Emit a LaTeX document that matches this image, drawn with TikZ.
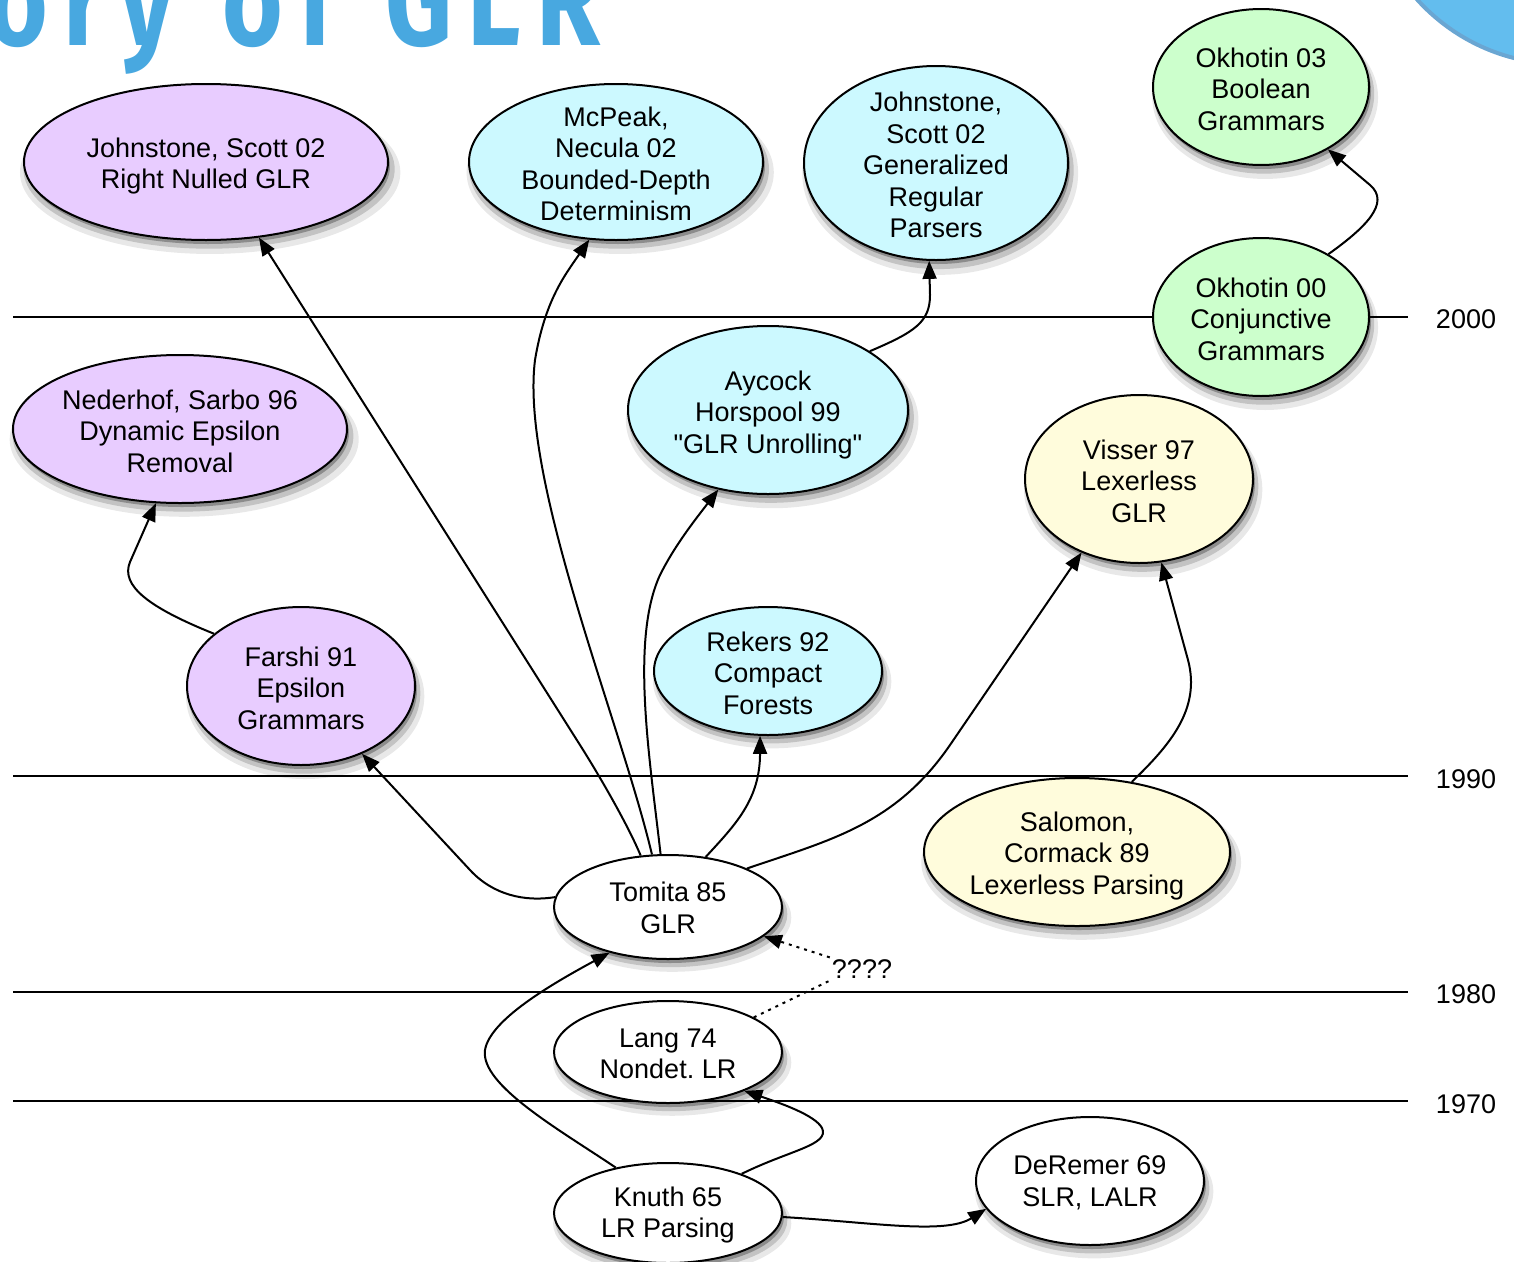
\documentclass[tikz,border=0pt]{standalone}
\usepackage{graphicx}
\usepackage{fontspec}
\setmainfont{Liberation Sans}[Ligatures=TeXOff]
\newfontfamily\titlef{Fira Sans}[LetterSpace=15]
\usetikzlibrary{shapes.geometric,arrows.meta,shadows}
\frenchspacing
\newcommand\glrfont{\fontsize{27}{31.5}\selectfont}
\newcommand\titlefont{\titlef\bfseries\fontsize{130}{130}\selectfont}
\newcommand\tsq[1]{\scalebox{0.8}[1]{#1}}
\definecolor{purp}{HTML}{E8CCFF}
\definecolor{cyanf}{HTML}{CCF9FF}
\definecolor{greenf}{HTML}{CCFFCC}
\definecolor{yellowf}{HTML}{FFFCDC}
\definecolor{titleblue}{HTML}{48A8E0}
\definecolor{circblue}{HTML}{63BDEE}
\definecolor{circedge}{HTML}{6AA6D2}
\tikzset{
  shad/.style={
    general shadow={fill=black, opacity=0.28, shadow xshift=2pt, shadow yshift=-4pt, shadow scale=1.0},
    general shadow={fill=black, opacity=0.16, shadow xshift=3pt, shadow yshift=-7pt, shadow scale=1.02},
    general shadow={fill=black, opacity=0.09, shadow xshift=4pt, shadow yshift=-10pt, shadow scale=1.045}},
  ell/.style={ellipse, draw, line width=2pt, inner sep=0pt, shad},
  txt/.style={align=center, font=\glrfont, inner sep=0pt, text=black, yshift=-2pt},
  arr/.style={line width=2pt, -{Triangle[length=18pt,width=14pt]}},
  dotarr/.style={line width=2pt, dash pattern=on 3pt off 5pt},
  era/.style={line width=1.5pt},
  year/.style={font=\glrfont, inner sep=0pt},
  ttl/.style={inner sep=0pt, text=titleblue, font=\titlefont}
}
\begin{document}
\begin{tikzpicture}[x=1pt,y=-1pt]
\useasboundingbox (0,0) rectangle (1514,1261);
% title and decoration
\node[ttl, anchor=base east] (title1) at (175,45) {\tsq{History}};
\node[ttl, anchor=base west] (title2) at (222,45) {\tsq{of}};
\node[ttl, anchor=base west] (title3) at (385,45) {\tsq{GLR}};
\draw[fill=circblue, draw=circedge, line width=4pt] (1562,-131) circle[radius=195];
% era lines
\draw[era] (13,317) -- (1408,317);
\draw[era] (13,776) -- (1408,776);
\draw[era] (13,992) -- (1408,992);
\draw[era] (13,1101) -- (1408,1101);
\node[year] (y2000) at (1466,319) {2000};
\node[year] (y1990) at (1466,779) {1990};
\node[year] (y1980) at (1466,994) {1980};
\node[year] (y1970) at (1466,1104) {1970};
% nodes
\node[ell, fill=purp, minimum width=364pt, minimum height=156pt, label={[txt, yshift=-2pt]center:{Johnstone, Scott 02\\Right Nulled GLR}}] (jsrn) at (206,162) {};
\node[ell, fill=cyanf, minimum width=294pt, minimum height=156pt, label={[txt]center:{McPeak,\\Necula 02\\Bounded-Depth\\Determinism}}] (mcpeak) at (616,162) {};
\node[ell, fill=cyanf, minimum width=264pt, minimum height=194pt, label={[txt]center:{Johnstone,\\Scott 02\\Generalized\\Regular\\Parsers}}] (jgrp) at (936,163) {};
\node[ell, fill=greenf, minimum width=216pt, minimum height=156pt, label={[txt]center:{Okhotin 03\\Boolean\\Grammars}}] (ok03) at (1261,87) {};
\node[ell, fill=greenf, minimum width=216pt, minimum height=158pt, label={[txt]center:{Okhotin 00\\Conjunctive\\Grammars}}] (ok00) at (1261,317) {};
\node[ell, fill=purp, minimum width=334pt, minimum height=148pt, label={[txt]center:{Nederhof, Sarbo 96\\Dynamic Epsilon\\Removal}}] (neder) at (180,429) {};
\node[ell, fill=cyanf, minimum width=280pt, minimum height=168pt, label={[txt, yshift=-3pt]center:{Aycock\\Horspool 99\\"GLR Unrolling"}}] (aycock) at (768,410) {};
\node[ell, fill=yellowf, minimum width=228pt, minimum height=168pt, label={[txt]center:{Visser 97\\Lexerless\\GLR}}] (visser) at (1139,479) {};
\node[ell, fill=purp, minimum width=228pt, minimum height=158pt, label={[txt]center:{Farshi 91\\Epsilon\\Grammars}}] (farshi) at (301,686) {};
\node[ell, fill=cyanf, minimum width=228pt, minimum height=128pt, label={[txt]center:{Rekers 92\\Compact\\Forests}}] (rekers) at (768,671) {};
\node[ell, fill=yellowf, minimum width=306pt, minimum height=148pt, label={[txt, yshift=-2pt]center:{Salomon,\\Cormack 89\\Lexerless Parsing}}] (salomon) at (1077,852) {};
\node[ell, fill=white, minimum width=228pt, minimum height=104pt, label={[txt, yshift=1pt]center:{Tomita 85\\GLR}}] (tomita) at (668,907) {};
\node[ell, fill=white, minimum width=228pt, minimum height=102pt, label={[txt]center:{Lang 74\\Nondet. LR}}] (lang) at (668,1052) {};
\node[ell, fill=white, minimum width=228pt, minimum height=100pt, label={[txt]center:{Knuth 65\\LR Parsing}}] (knuth) at (668,1213) {};
\node[ell, fill=white, minimum width=228pt, minimum height=128pt, label={[txt]center:{DeRemer 69\\SLR, LALR}}] (deremer) at (1090,1181) {};
\node[year, fill=white, inner sep=2pt] (q) at (862,969) {????};
% connectors
\draw[arr] (tomita.118) .. controls (628,825) and (599,775) .. (580,745) -- (jsrn.305);
\draw[arr] (tomita.107) .. controls (620,720) and (520,480) .. (535,360) .. controls (545,300) and (565,275) .. (mcpeak.251);
\draw[arr] (tomita.98) .. controls (650,760) and (630,640) .. (660,575) .. controls (675,545) and (695,520) .. (aycock.238);
\draw[arr] (tomita.53) .. controls (735,825) and (760,800) .. (rekers.263);
\draw[arr] (tomita.26) .. controls (830,840) and (895,825) .. (950,745) -- (visser.232);
\draw[arr] (tomita.175) .. controls (525,902) and (493,895) .. (470,870) -- (farshi.312);
\draw[arr] (knuth.139) .. controls (560,1130) and (480,1085) .. (485,1050) .. controls (490,1020) and (550,985) .. (tomita.218);
\draw[arr] (knuth.28) .. controls (790,1150) and (830,1145) .. (822,1128) .. controls (815,1115) and (780,1103) .. (lang.333);
\draw[arr] (knuth.358) .. controls (870,1222) and (945,1235) .. (deremer.195);
\draw[dotarr] (lang.22) -- (q.south west);
\draw[dotarr, -{Triangle[length=18pt,width=14pt]}] (q.north west) -- (tomita.343);
\draw[arr] (farshi.149) .. controls (150,608) and (120,586) .. (130,562) -- (neder.252);
\draw[arr] (aycock.30) .. controls (915,332) and (930,322) .. (930,295) -- (jgrp.266);
\draw[arr] (ok00.43) .. controls (1365,228) and (1391,203) .. (1370,185) -- (ok03.317);
\draw[arr] (salomon.52) .. controls (1170,745) and (1201,709) .. (1188,660) -- (visser.285);
\end{tikzpicture}
\end{document}
